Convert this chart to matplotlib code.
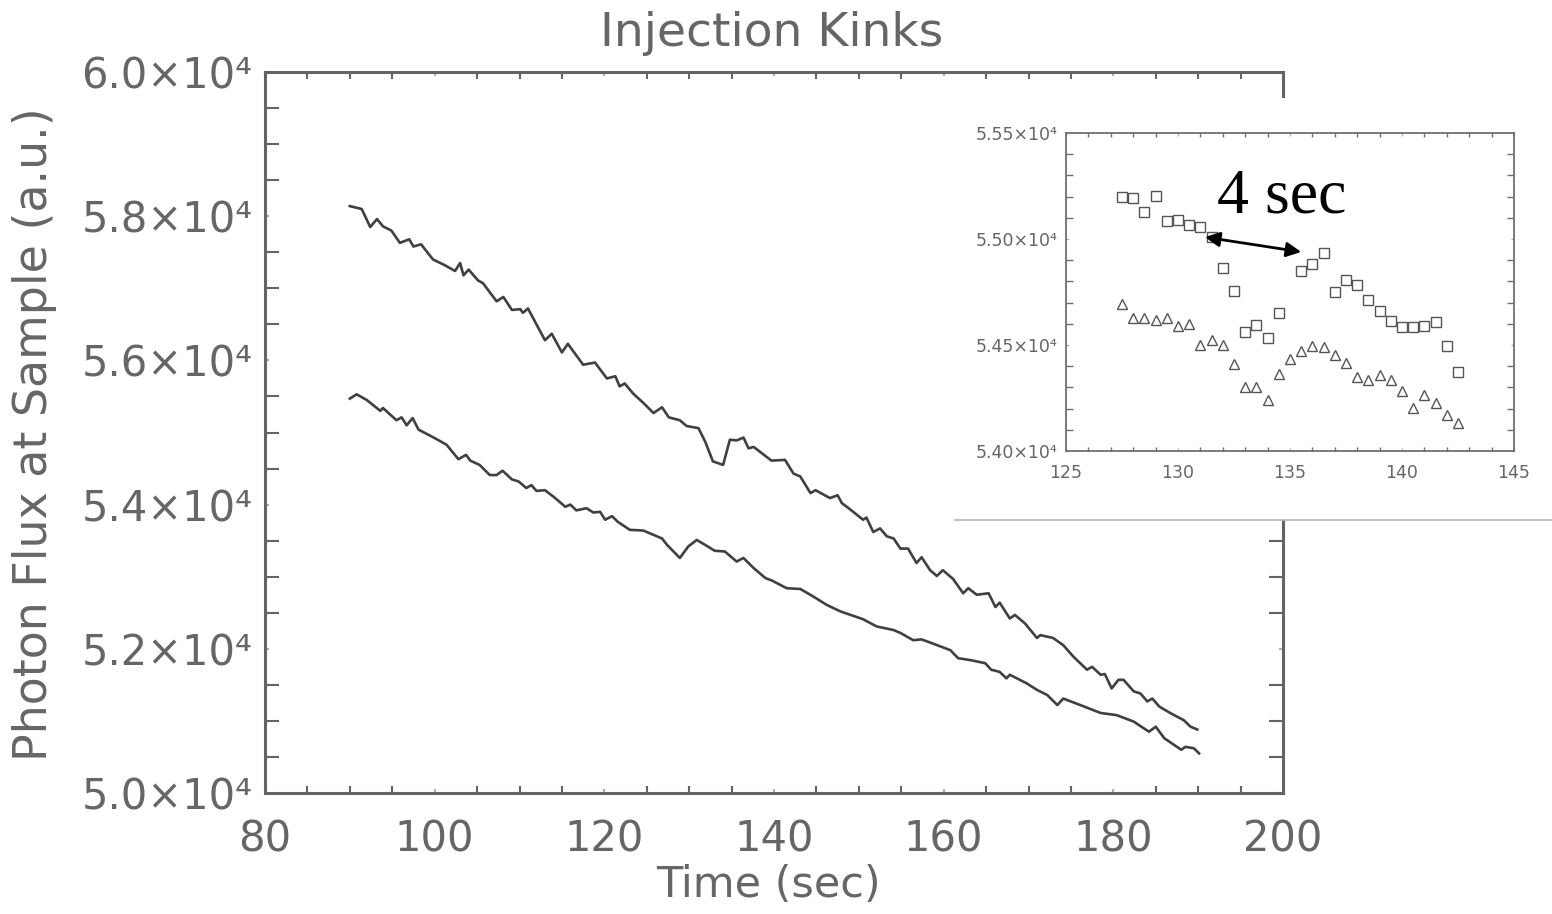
import numpy as np
import matplotlib
matplotlib.use('Agg')
import matplotlib.pyplot as plt
from matplotlib.ticker import MultipleLocator, FixedLocator
from matplotlib.patches import Rectangle
from matplotlib.lines import Line2D

# ------ DATA (photon flux in units of 1e4) ----------------------------

upper_t = [90.0, 91.4, 92.4, 93.2, 93.9, 94.9, 95.9, 97.0, 97.5, 98.4, 99.8, 101.2,
           102.4, 103.0, 103.4, 104.0, 105.1, 105.7, 107.3, 108.1, 109.1, 110.1, 110.4,
           111.0, 113.0, 113.8, 115.0, 115.7, 117.5, 118.9, 120.3, 121.3, 121.8, 122.4,
           123.4, 124.6, 125.8, 126.8, 127.6, 128.9, 129.7, 131.1, 131.9, 132.8, 134.0,
           134.8, 135.6, 136.4, 137.0, 137.6, 139.7, 141.3, 142.3, 143.1, 144.3, 144.9,
           146.6, 147.5, 148.0, 148.8, 150.5, 150.9, 151.7, 152.5, 153.3, 154.1, 154.9,
           155.8, 156.8, 157.4, 158.4, 159.2, 159.9, 161.1, 162.3, 162.9, 163.9, 165.3,
           166.1, 166.6, 167.8, 168.4, 169.6, 171.0, 171.4, 172.9, 174.1, 175.3, 176.9,
           177.5, 178.5, 179.0, 179.8, 180.6, 181.2, 182.4, 183.2, 184.0, 184.6, 185.4,
           186.7, 188.3, 189.1, 189.9]
upper_v = [5.814, 5.810, 5.785, 5.796, 5.786, 5.780, 5.763, 5.768, 5.758, 5.761, 5.740, 5.732,
           5.724, 5.735, 5.718, 5.726, 5.711, 5.707, 5.682, 5.688, 5.670, 5.671, 5.666,
           5.672, 5.628, 5.637, 5.611, 5.623, 5.594, 5.597, 5.575, 5.578, 5.564, 5.568,
           5.554, 5.541, 5.527, 5.535, 5.521, 5.517, 5.509, 5.506, 5.487, 5.460, 5.455,
           5.490, 5.489, 5.493, 5.478, 5.480, 5.461, 5.462, 5.443, 5.439, 5.416, 5.420,
           5.409, 5.413, 5.402, 5.395, 5.379, 5.382, 5.362, 5.367, 5.356, 5.353, 5.339,
           5.339, 5.319, 5.327, 5.309, 5.301, 5.309, 5.297, 5.277, 5.284, 5.275, 5.277,
           5.258, 5.264, 5.242, 5.247, 5.235, 5.215, 5.219, 5.215, 5.205, 5.189, 5.171,
           5.175, 5.164, 5.165, 5.145, 5.157, 5.157, 5.141, 5.138, 5.127, 5.131, 5.120,
           5.111, 5.101, 5.092, 5.088]

lower_t = [90.0, 90.8, 92.0, 93.6, 93.9, 95.5, 96.1, 96.7, 97.4, 98.1, 100.2, 101.4,
           102.8, 103.7, 104.2, 105.3, 106.5, 107.3, 108.0, 109.1, 109.9, 110.8, 111.4,
           112.0, 113.0, 114.0, 115.4, 116.0, 116.7, 117.9, 118.7, 119.5, 120.1, 120.9,
           121.6, 123.0, 124.6, 125.8, 126.8, 127.4, 128.9, 129.9, 130.9, 131.9, 133.0,
           134.2, 135.6, 136.4, 137.6, 139.0, 139.7, 141.5, 143.1, 144.7, 146.2, 147.8,
           150.5, 152.1, 154.1, 154.9, 156.4, 157.4, 158.8, 160.8, 161.7, 163.3, 164.9,
           165.6, 166.6, 167.4, 167.8, 169.8, 171.0, 172.2, 173.4, 174.1, 176.1, 178.5,
           180.4, 182.4, 184.2, 185.0, 186.0, 188.0, 188.5, 189.5, 190.1]
lower_v = [5.547, 5.553, 5.545, 5.530, 5.534, 5.517, 5.521, 5.510, 5.520, 5.504, 5.491, 5.483,
           5.463, 5.469, 5.461, 5.455, 5.441, 5.441, 5.447, 5.435, 5.432, 5.423, 5.427,
           5.419, 5.420, 5.411, 5.397, 5.400, 5.392, 5.395, 5.389, 5.390, 5.379, 5.384,
           5.376, 5.365, 5.364, 5.358, 5.353, 5.344, 5.326, 5.342, 5.351, 5.344, 5.336,
           5.335, 5.321, 5.326, 5.312, 5.298, 5.295, 5.284, 5.283, 5.272, 5.261, 5.252,
           5.241, 5.231, 5.226, 5.222, 5.212, 5.213, 5.207, 5.198, 5.187, 5.184, 5.180,
           5.171, 5.168, 5.159, 5.164, 5.152, 5.143, 5.136, 5.122, 5.131, 5.122, 5.111,
           5.108, 5.099, 5.085, 5.092, 5.076, 5.060, 5.064, 5.062, 5.055]

# inset: zoom on the kinks (0.5 s sampling)
sq_t = [127.5, 128, 128.5, 129, 129.5, 130, 130.5, 131, 131.5, 132, 132.5, 133, 133.5,
        134, 134.5, 135.5, 136, 136.5, 137, 137.5, 138, 138.5, 139, 139.5, 140, 140.5,
        141, 141.5, 142, 142.5]
sq_v = [5.5197, 5.5193, 5.5129, 5.5201, 5.5087, 5.5091, 5.5066, 5.5058, 5.5011, 5.4862,
        5.4756, 5.4560, 5.4594, 5.4531, 5.4652, 5.4851, 5.4881, 5.4933, 5.4750, 5.4807,
        5.4784, 5.4712, 5.4662, 5.4615, 5.4583, 5.4586, 5.4590, 5.4608, 5.4495, 5.4374]
tri_t = [127.5, 128, 128.5, 129, 129.5, 130, 130.5, 131, 131.5, 132, 132.5, 133, 133.5,
         134, 134.5, 135, 135.5, 136, 136.5, 137, 137.5, 138, 138.5, 139, 139.5, 140,
         140.5, 141, 141.5, 142, 142.5]
tri_v = [5.4692, 5.4629, 5.4626, 5.4618, 5.4629, 5.4591, 5.4600, 5.4500, 5.4524, 5.4500,
         5.4410, 5.4303, 5.4303, 5.4240, 5.4363, 5.4433, 5.4473, 5.4495, 5.4492, 5.4453,
         5.4414, 5.4351, 5.4335, 5.4358, 5.4335, 5.4284, 5.4201, 5.4264, 5.4225, 5.4170,
         5.4131]

main_yticks = [5.0, 5.2, 5.4, 5.6, 5.8, 6.0]
main_ylabels = ['5.0×10⁴', '5.2×10⁴', '5.4×10⁴', '5.6×10⁴', '5.8×10⁴', '6.0×10⁴']
inset_yticks = [5.40, 5.45, 5.50, 5.55]
inset_ylabels = ['5.40×10⁴', '5.45×10⁴', '5.50×10⁴', '5.55×10⁴']

E4 = 1e4
TXT = '#666666'
AX = '#646464'

# ------ FIGURE ----------------------------------------------------------

W, H = 1552, 914
fig = plt.figure(figsize=(W / 100, H / 100), dpi=100)
plt.rcParams['font.family'] = ['DejaVu Sans']


def fx(px):
    return px / W


def fy(py):
    return 1 - py / H


# MAIN AXES
ax = fig.add_axes([fx(265), fy(793), fx(1283) - fx(265), fy(72) - fy(793)])
ax.plot(upper_t, np.array(upper_v) * E4, color='#404040', lw=1.9)
ax.plot(lower_t, np.array(lower_v) * E4, color='#404040', lw=1.9)
ax.set_xlim(80, 200)
ax.set_ylim(5.0 * E4, 6.0 * E4)
ax.xaxis.set_major_locator(MultipleLocator(20))
ax.xaxis.set_minor_locator(MultipleLocator(5))
ax.yaxis.set_major_locator(FixedLocator([v * E4 for v in main_yticks]))
ax.yaxis.set_minor_locator(MultipleLocator(0.05 * E4))
ax.set_yticklabels(main_ylabels)
for s in ax.spines.values():
    s.set_color(AX)
    s.set_linewidth(2.2)
ax.tick_params(which='both', direction='in', top=True, right=True, labelcolor=TXT,
               labelsize=30)
ax.tick_params(which='major', length=3, width=1.5, color='#b0b0b0')
ax.tick_params(axis='y', which='major', pad=9)
ax.tick_params(axis='x', which='major', pad=18)
ax.tick_params(axis='x', which='minor', length=5, width=1.5, color=AX)
ax.tick_params(axis='y', which='minor', length=10, width=1.5, color=AX)

fig.text(fx(772), fy(33), 'Injection Kinks', ha='center', va='center', fontsize=34, color=TXT)
fig.text(fx(768), fy(885), 'Time (sec)', ha='center', va='center', fontsize=31, color=TXT)
fig.text(fx(35), fy(434), 'Photon Flux at Sample (a.u.)', ha='center', va='center',
         rotation=90, fontsize=33, color=TXT)

# WHITE BACKDROP OF THE PASTED INSET
fig.add_artist(Rectangle((fx(955), fy(520)), fx(1552) - fx(955), fy(98) - fy(520),
                         transform=fig.transFigure, facecolor='white', edgecolor='none',
                         zorder=3))
fig.add_artist(Line2D([fx(955), fx(1552)], [fy(520), fy(520)], transform=fig.transFigure,
                      color='#b8b8b8', lw=1.2, zorder=4))

# INSET AXES
ins = fig.add_axes([fx(1066), fy(451), fx(1514) - fx(1066), fy(133) - fy(451)], zorder=5)
ins.plot(sq_t, np.array(sq_v) * E4, ls='none', marker='s', ms=6.5, mfc='none',
         mec='#555555', mew=1.0)
ins.plot(tri_t, np.array(tri_v) * E4, ls='none', marker='^', ms=6.5, mfc='none',
         mec='#555555', mew=1.0)
ins.set_xlim(125, 145)
ins.set_ylim(5.40 * E4, 5.55 * E4)
ins.xaxis.set_major_locator(MultipleLocator(5))
ins.xaxis.set_minor_locator(MultipleLocator(1))
ins.yaxis.set_major_locator(FixedLocator([v * E4 for v in inset_yticks]))
ins.yaxis.set_minor_locator(MultipleLocator(0.01 * E4))
ins.set_yticklabels(inset_ylabels)
for s in ins.spines.values():
    s.set_color('#707070')
    s.set_linewidth(1.3)
ins.tick_params(which='both', direction='in', top=True, right=True, labelcolor=TXT,
                labelsize=12.5)
ins.tick_params(which='major', length=2, width=1, color='#b0b0b0')
ins.tick_params(axis='y', which='major', pad=6)
ins.tick_params(axis='x', which='major', pad=9)
ins.tick_params(axis='x', which='minor', length=3, width=1, color='#707070')
ins.tick_params(axis='y', which='minor', length=5, width=1, color='#707070')

# "4 sec" ARROW
ins.annotate('', xy=(131.2, 5.5009 * E4), xytext=(135.5, 5.4939 * E4),
             arrowprops=dict(arrowstyle='<|-|>', color='black', lw=2, mutation_scale=22,
                             shrinkA=0, shrinkB=0))
ins.text(131.74, 5.5123 * E4, '4 sec', ha='left', va='baseline', fontsize=46,
         family=['Liberation Serif', 'DejaVu Serif'], color='black')

plt.savefig('out.png', dpi=100)
